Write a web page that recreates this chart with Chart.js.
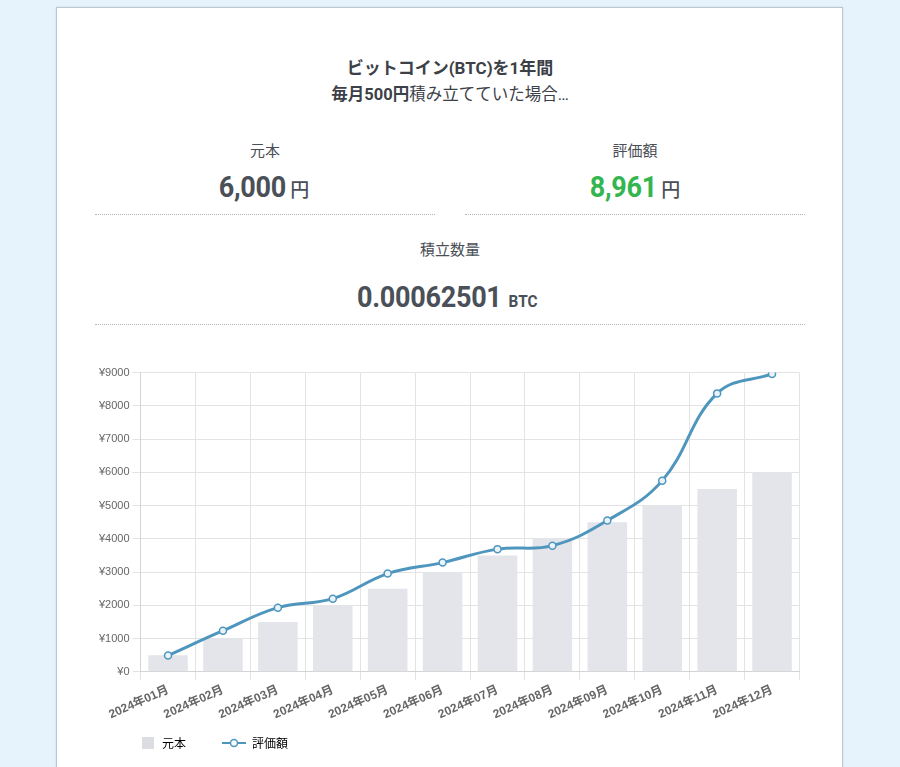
<!DOCTYPE html>
<html lang="ja">
<head>
<meta charset="utf-8">
<script src="https://cdn.jsdelivr.net/npm/chart.js@4/dist/chart.umd.min.js"></script>
<style>
  html, body { margin: 0; padding: 0; }
  body { width: 900px; height: 767px; overflow: hidden; background: #e6f3fd; position: relative;
         font-family: Roboto, "Noto Sans CJK JP", sans-serif; color: #4a4f56; }
  .card { position: absolute; left: 56px; top: 7px; width: 785px; height: 800px; background: #fff;
          border: 1px solid #b9c8d3; box-shadow: 0 0 2px rgba(0,0,0,0.12); }
  .t { position: absolute; left: 0; width: 900px; text-align: center; white-space: nowrap; }
  .title1 { top: 56px; font-size: 17px; font-weight: 700; color: #3c4148; line-height: 24px; }
  .title2 { top: 83px; font-size: 16.5px; color: #3c4148; line-height: 24px; }
  .title2 b { font-weight: 700; }
  .lab { position: absolute; text-align: center; font-size: 15px; color: #4a4f56; line-height: 20px;
         font-family: "Noto Sans CJK JP", sans-serif; }
  .val { position: absolute; text-align: center; line-height: 36px; white-space: nowrap; }
  .num { display: inline-block; font-family: Roboto, sans-serif; font-weight: 700; font-size: 30px;
         color: #4a5058; transform: scaleX(0.9); letter-spacing: -0.3px; }
  .green { color: #33b54f; }
  .unit { font-family: "Noto Sans CJK JP", sans-serif; font-size: 19px; font-weight: 500; color: #4a5058; margin-left: -3px; }
  .btc { display: inline-block; font-family: Roboto, sans-serif; font-weight: 700; font-size: 17px;
         color: #4a5058; transform: scaleX(0.9); margin-left: -6px; }
  .dot { position: absolute; height: 0; border-top: 1px dotted #b5b5b5; }
  #wrap { position: absolute; left: 96px; top: 363px; width: 709px; height: 420px; }
</style>
</head>
<body>
<div class="card"></div>
<div class="t title1">ビットコイン(BTC)を1年間</div>
<div class="t title2"><b>毎月500円</b>積み立てていた場合…</div>

<div class="lab" style="left:165px; width:200px; top:140px;">元本</div>
<div class="val" style="left:162px; width:200px; top:169px;"><span class="num">6,000</span> <span class="unit">円</span></div>
<div class="lab" style="left:535px; width:200px; top:140px;">評価額</div>
<div class="val" style="left:533px; width:200px; top:169px;"><span class="num green">8,961</span> <span class="unit">円</span></div>
<div class="dot" style="left:95px; width:340px; top:214px;"></div>
<div class="dot" style="left:465px; width:340px; top:214px;"></div>

<div class="lab" style="left:350px; width:200px; top:239px;">積立数量</div>
<div class="val" style="left:294px; width:300px; top:279px;"><span class="num">0.00062501</span> <span class="btc">BTC</span></div>
<div class="dot" style="left:95px; width:710px; top:324px;"></div>

<div id="wrap"><canvas id="c"></canvas></div>

<script>
const months = ["2024年01月","2024年02月","2024年03月","2024年04月","2024年05月","2024年06月",
                "2024年07月","2024年08月","2024年09月","2024年10月","2024年11月","2024年12月"];
const principal = [500, 1000, 1500, 2000, 2500, 3000, 3500, 4000, 4500, 5000, 5500, 6000];
const valuation = [490, 1235, 1930, 2200, 2955, 3285, 3690, 3795, 4550, 5750, 8375, 8961];
const seriesNames = ["元本", "評価額"];
const yMax = 9000;
const yStep = 1000;

const barColor = "#e4e5ea";
const lineColor = "#4f96bf";

// legend glyphs
function makeSquare() {
  const c = document.createElement("canvas");
  c.width = 24; c.height = 12;
  const g = c.getContext("2d");
  g.fillStyle = "#dcdde2";
  g.fillRect(10, 0, 12, 12);
  return c;
}
function makeLineGlyph() {
  const c = document.createElement("canvas");
  c.width = 24; c.height = 12;
  const g = c.getContext("2d");
  g.strokeStyle = lineColor; g.lineWidth = 2;
  g.beginPath(); g.moveTo(0, 6); g.lineTo(24, 6); g.stroke();
  g.beginPath(); g.arc(12, 6, 3.5, 0, Math.PI * 2);
  g.fillStyle = "#ffffff"; g.fill(); g.lineWidth = 1.5; g.stroke();
  return c;
}
const sqGlyph = makeSquare();
const lnGlyph = makeLineGlyph();

// raise the legend closer to the axis labels (the legend needs wide item spacing)
const LEGEND_RAISE = 24;
const legendNudge = {
  id: "legendNudge",
  afterLayout(chart) {
    const lg = chart.legend;
    if (lg) { lg.top -= LEGEND_RAISE; lg.bottom -= LEGEND_RAISE; }
  }
};

const FONT = "'Helvetica Neue', Arial, 'Noto Sans CJK JP', sans-serif";

new Chart(document.getElementById("c"), {
  data: {
    labels: months,
    datasets: [
      { type: "bar", label: seriesNames[0], data: principal, backgroundColor: barColor, order: 2 },
      { type: "line", label: seriesNames[1], data: valuation, borderColor: lineColor, borderWidth: 3,
        tension: 0.4, pointRadius: 3.5, pointBorderWidth: 1.5, pointBackgroundColor: "#eaf3f9",
        pointBorderColor: lineColor, fill: false, order: 1 }
    ]
  },
  plugins: [legendNudge],
  options: {
    responsive: true,
    maintainAspectRatio: false,
    animation: false,
    layout: { padding: 0 },
    scales: {
      x: {
        offset: true,
        grid: { color: "#e3e3e3", offset: true, tickLength: 8 },
        border: { color: "#d4d4d4" },
        ticks: { color: "#666", font: { family: FONT, size: 12, weight: "bold" },
                 minRotation: 24, maxRotation: 24, autoSkip: false }
      },
      y: {
        min: 0, max: yMax,
        grid: { color: "#e3e3e3", tickLength: 8 },
        border: { color: "#d4d4d4" },
        ticks: { stepSize: yStep, color: "#666", font: { family: FONT, size: 11 },
                 callback: (v) => "¥" + v }
      }
    },
    plugins: {
      tooltip: { enabled: false },
      legend: {
        position: "bottom",
        align: "start",
        labels: {
          usePointStyle: true,
          pointStyleWidth: 24,
          padding: 36,
          color: "#555",
          font: { family: "'Noto Sans CJK JP', sans-serif", size: 12 },
          generateLabels: () => [
            { text: seriesNames[0], pointStyle: sqGlyph, fillStyle: barColor, strokeStyle: barColor, lineWidth: 0, datasetIndex: 0, hidden: false },
            { text: seriesNames[1], pointStyle: lnGlyph, fillStyle: "#fff", strokeStyle: lineColor, lineWidth: 0, datasetIndex: 1, hidden: false }
          ]
        }
      }
    }
  }
});
</script>
</body>
</html>
